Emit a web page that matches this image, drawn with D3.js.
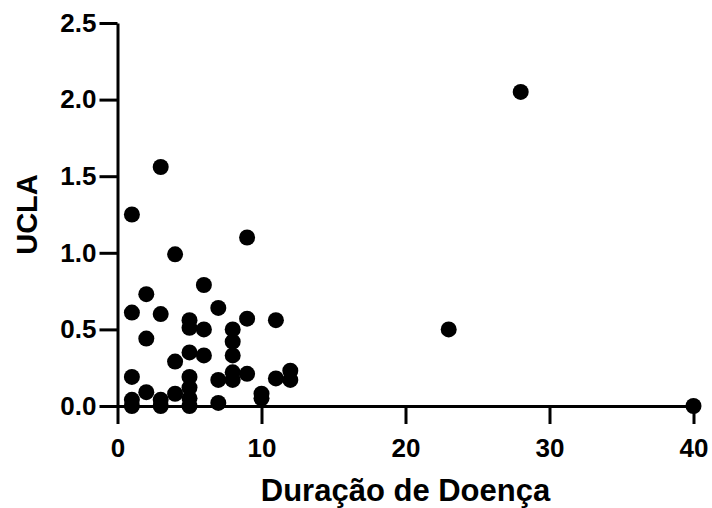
<!DOCTYPE html>
<html>
<head>
<meta charset="utf-8">
<script src="https://cdn.jsdelivr.net/npm/d3@7"></script>
<style>
  body { margin: 0; background: #fff; }
  svg { display: block; }
</style>
</head>
<body>
<svg></svg>
<script>
const width = 712, height = 508;

// data
const duracao = [1, 1, 1, 1, 1,
                 2, 2, 2,
                 3, 3, 3, 3,
                 4, 4, 4,
                 5, 5, 5, 5, 5, 5, 5,
                 6, 6, 6,
                 7, 7, 7,
                 8, 8, 8, 8, 8,
                 9, 9, 9,
                 10, 10,
                 11, 11,
                 12, 12,
                 23, 28, 40];
const ucla = [1.25, 0.61, 0.19, 0.04, 0.0,
              0.73, 0.44, 0.09,
              1.56, 0.60, 0.04, 0.0,
              0.99, 0.29, 0.08,
              0.56, 0.51, 0.35, 0.19, 0.12, 0.05, 0.0,
              0.79, 0.50, 0.33,
              0.64, 0.17, 0.02,
              0.50, 0.42, 0.33, 0.22, 0.17,
              1.10, 0.57, 0.21,
              0.08, 0.05,
              0.56, 0.18,
              0.23, 0.17,
              0.50, 2.05, 0.0];
const xTicks = [0, 10, 20, 30, 40];
const yTicks = [0.0, 0.5, 1.0, 1.5, 2.0, 2.5];

// plot area edges
const m_left = 117.5, m_right = 693.5, m_top = 23, m_bottom = 406;

let svg = d3.select("svg")
    .attr("width", width)
    .attr("height", height);

let x = d3.scaleLinear().domain([0, 40]).range([m_left, m_right]);
let y = d3.scaleLinear().domain([0, 2.5]).range([m_bottom, m_top]);

// x axis
let gx = svg.append("g")
    .attr("transform", "translate(0," + m_bottom + ")")
    .call(d3.axisBottom(x).tickValues(xTicks).tickSize(18).tickPadding(15).tickSizeOuter(0));

// y axis
let gy = svg.append("g")
    .attr("transform", "translate(" + m_left + ",0)")
    .call(d3.axisLeft(y).tickValues(yTicks).tickSize(18).tickPadding(3).tickSizeOuter(0)
        .tickFormat(d3.format(".1f")));

[gx, gy].forEach(g => {
    g.selectAll("path, line").attr("stroke", "#000").attr("stroke-width", 3);
    g.selectAll("text")
        .attr("fill", "#000")
        .style("font-family", "'Liberation Sans', Arial, sans-serif")
        .style("font-weight", "bold")
        .style("font-size", "26px");
});
gx.select(".domain").attr("stroke-linecap", "square");

// points
svg.append("g")
    .selectAll("circle")
    .data(duracao)
    .enter()
    .append("circle")
    .attr("cx", d => x(d))
    .attr("cy", (d, i) => y(ucla[i]))
    .attr("r", 8)
    .attr("fill", "#000");

// axis titles
svg.append("text")
    .attr("x", (m_left + m_right) / 2)
    .attr("y", 501)
    .attr("text-anchor", "middle")
    .style("font-family", "'Liberation Sans', Arial, sans-serif")
    .style("font-weight", "bold")
    .style("font-size", "31px")
    .text("Duração de Doença");

svg.append("text")
    .attr("transform", "translate(37," + ((m_top + m_bottom) / 2) + ") rotate(-90)")
    .attr("text-anchor", "middle")
    .style("font-family", "'Liberation Sans', Arial, sans-serif")
    .style("font-weight", "bold")
    .style("font-size", "29px")
    .text("UCLA");
</script>
</body>
</html>
